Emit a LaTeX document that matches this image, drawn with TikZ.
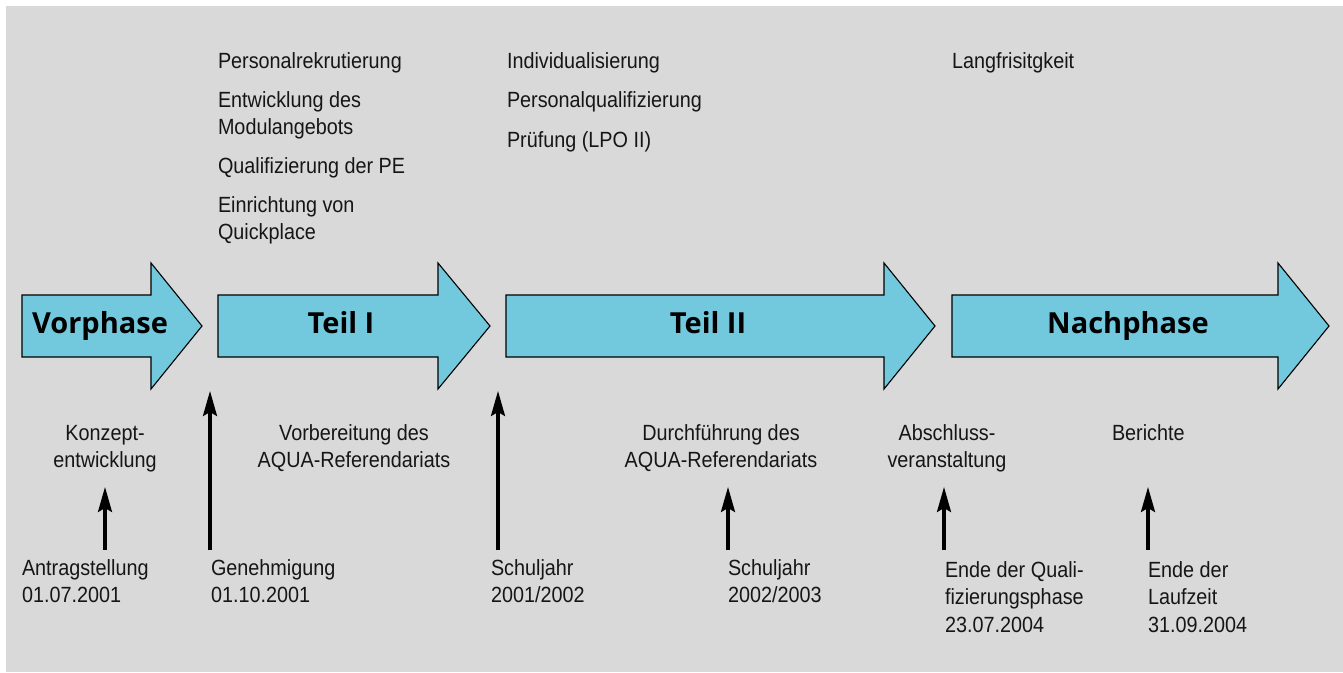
\documentclass[tikz,border=0pt]{standalone}
\usepackage{fontspec}
\setmainfont{Liberation Sans}[FakeStretch=0.9]
\newfontfamily\phasefont{Open Sans}
\usetikzlibrary{arrows.meta}
\definecolor{bg}{HTML}{D9D9D9}
\definecolor{phasefill}{HTML}{72C9DE}
\definecolor{ink}{HTML}{161616}
\newcommand\phasearrowshape[3]{%
  \draw[phasebox] (#1,295) -- (#2,295) -- (#2,263) -- (#3,326) -- (#2,389) -- (#2,357) -- (#1,357) -- cycle;}
\begin{document}
\begin{tikzpicture}[x=1pt,y=-1pt,
  phasebox/.style={fill=phasefill,draw=black,line width=1.1pt,line join=miter},
  phaselbl/.style={anchor=base,inner sep=0pt,outer sep=0pt,text=black,font=\phasefont\bfseries\fontsize{29}{34}\selectfont},
  lbl/.style={inner sep=0pt,outer sep=0pt,text=ink,font=\fontsize{22}{27}\selectfont},
  lblw/.style={lbl,anchor=base west,align=left},
  lblc/.style={lbl,anchor=base,align=center},
  pointer/.style={draw=black,line width=3.1pt,-{Stealth[length=25pt,width=14pt,inset=4pt]}}]
\useasboundingbox (0,0) rectangle (1343,672);
\fill[bg] (6,6) rectangle (1343,672);
% phase arrows
\phasearrowshape{22}{151}{202}
\phasearrowshape{218}{438}{490}
\phasearrowshape{506}{884}{935}
\phasearrowshape{952}{1278}{1329}
\node[phaselbl] (vor) at (100,333) {Vorphase};
\node[phaselbl] (t1) at (341,333) {Teil I};
\node[phaselbl] (t2) at (708,333) {Teil II};
\node[phaselbl] (nach) at (1128,333) {Nachphase};
% top texts (anchor = baseline of last line)
\node[lblw] (p1) at (218,68) {Personalrekrutierung};
\node[lblw] (p2) at (218,134) {Entwicklung des\\Modulangebots};
\node[lblw] (p3) at (218,173) {Qualifizierung der PE};
\node[lblw] (p4) at (218,239) {Einrichtung von\\Quickplace};
\node[lblw] (i1) at (507,68) {Individualisierung};
\node[lblw] (i2) at (507,107) {Personalqualifizierung};
\node[lblw] (i3) at (507,147) {Prüfung (LPO II)};
\node[lblw] (l1) at (952,68) {Langfrisitgkeit};
% activity texts
\node[lblc] (k) at (105,467) {Konzept-\\entwicklung};
\node[lblc] (vb) at (354,467) {Vorbereitung des\\AQUA-Referendariats};
\node[lblc] (df) at (721,467) {Durchführung des\\AQUA-Referendariats};
\node[lblc] (ab) at (947,467) {Abschluss-\\veranstaltung};
\node[lblw] (be) at (1112,440) {Berichte};
% dates
\node[lblw] (d1) at (22,602) {Antragstellung\\01.07.2001};
\node[lblw] (d2) at (211,602) {Genehmigung\\01.10.2001};
\node[lblw] (d3) at (491,602) {Schuljahr\\2001/2002};
\node[lblw] (d4) at (728,602) {Schuljahr\\2002/2003};
\node[lblw,font=\fontsize{22}{27.5}\selectfont] (d5) at (945,632) {Ende der Quali-\\fizierungsphase\\23.07.2004};
\node[lblw,font=\fontsize{22}{27.5}\selectfont] (d6) at (1148,632) {Ende der\\Laufzeit\\31.09.2004};
% pointers
\coordinate (s1) at (105,550); \coordinate (e1) at (105,487);
\coordinate (s2) at (210,550); \coordinate (e2) at (210,391);
\coordinate (s3) at (498,550); \coordinate (e3) at (498,391);
\coordinate (s4) at (728,550); \coordinate (e4) at (728,487);
\coordinate (s5) at (944,550); \coordinate (e5) at (944,487);
\coordinate (s6) at (1148,550); \coordinate (e6) at (1148,487);
\foreach \i in {1,...,6} \draw[pointer] (s\i) -- (e\i);
\end{tikzpicture}
\end{document}
